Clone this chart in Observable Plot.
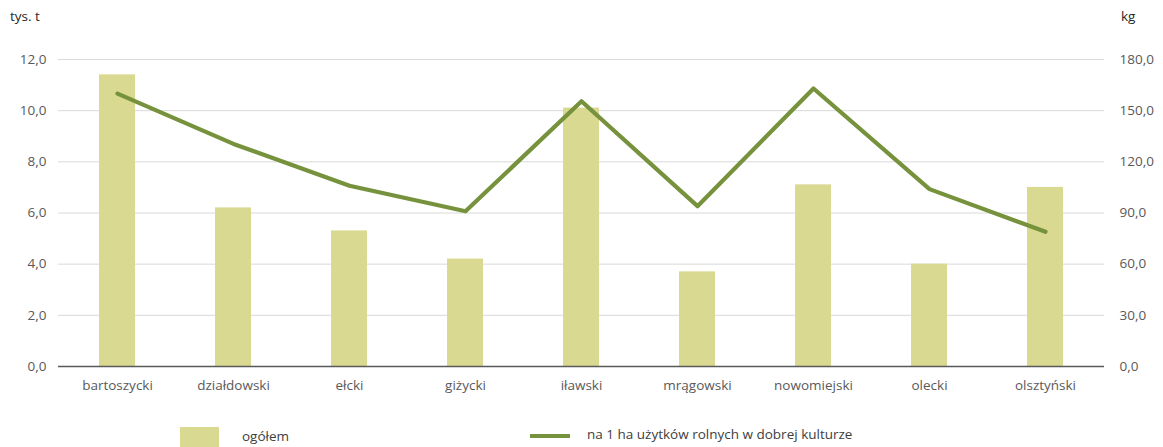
<!DOCTYPE html>
<html>
<head>
<meta charset="utf-8">
<script src="https://cdn.jsdelivr.net/npm/d3@7"></script>
<script src="https://cdn.jsdelivr.net/npm/@observablehq/plot@0.6"></script>
<style>
  html, body { margin: 0; padding: 0; background: #fff; overflow: hidden; }
  body { width: 1163px; height: 447px; font-family: "Open Sans", sans-serif; }
  #head { position: relative; height: 40px; width: 1163px; }
  #head span { position: absolute; font-size: 13.5px; color: #262626; }
  #legend { position: relative; height: 37px; width: 1163px; }
  #legend .sw { position: absolute; }
  #legend .lb { position: absolute; font-size: 13.5px; color: #404040; }
  svg { display: block; }
</style>
</head>
<body>
<div id="head"><span style="left:10px;top:7px">tys. t</span><span style="left:1121px;top:7px">kg</span></div>
<div id="chart"></div>
<div id="legend">
  <div class="sw" style="left:180px;top:17px;width:39px;height:22px;background:#d9d991"></div>
  <div class="lb" style="left:242px;top:17px">ogółem</div>
  <div class="sw" style="left:530px;top:24px;width:40px;height:4px;background:#76923c"></div>
  <div class="lb" style="left:587px;top:15px">na 1 ha użytków rolnych w dobrej kulturze</div>
</div>
<script>
const categories = ["bartoszycki","działdowski","ełcki","giżycki","iławski","mrągowski","nowomiejski","olecki","olsztyński"];
const ogolem = [11.4, 6.2, 5.3, 4.2, 10.1, 3.7, 7.1, 4.0, 7.0];
const naHa = [160.0, 130.5, 106.0, 91.0, 155.5, 94.0, 163.0, 104.0, 79.0];
const leftTicks = [0, 2, 4, 6, 8, 10, 12];
const rightTicks = [0, 30, 60, 90, 120, 150, 180];

const ratio = 180 / 12;
const fmt = d => d.toFixed(1).replace(".", ",");
const data = categories.map((c, i) => ({cat: c, tot: ogolem[i], kg: naHa[i]}));

const chart = Plot.plot({
  width: 1163,
  height: 370,
  marginTop: 19,
  marginBottom: 44,
  marginLeft: 58,
  marginRight: 59,
  style: {fontFamily: "'Open Sans', sans-serif", fontSize: "13.5px", color: "#595959", background: "#fff"},
  x: {type: "band", domain: categories, paddingInner: 0.69, paddingOuter: 0.345, label: null},
  y: {domain: [0, 12], label: null},
  marks: [
    Plot.gridY(leftTicks.filter(d => d > 0), {stroke: "#d9d9d9", strokeOpacity: 1, strokeWidth: 1}),
    Plot.barY(data, {x: "cat", y: "tot", fill: "#d9d991"}),
    Plot.ruleY([0], {stroke: "#595959", strokeWidth: 1.3}),
    Plot.lineY(data, {x: "cat", y: d => d.kg / ratio, stroke: "#76923c", strokeWidth: 4.2, strokeLinecap: "round", strokeLinejoin: "round"}),
    Plot.axisX({tickSize: 0, tickPadding: 14, fill: "#595959", label: null}),
    Plot.axisY(leftTicks, {anchor: "left", tickSize: 0, tickPadding: 12, tickFormat: fmt, fill: "#595959", label: null}),
    Plot.axisY(rightTicks.map(d => d / ratio), {anchor: "right", tickSize: 0, tickPadding: 15, tickFormat: d => fmt(d * ratio), fill: "#595959", label: null})
  ]
});
document.getElementById("chart").append(chart);
</script>
</body>
</html>
